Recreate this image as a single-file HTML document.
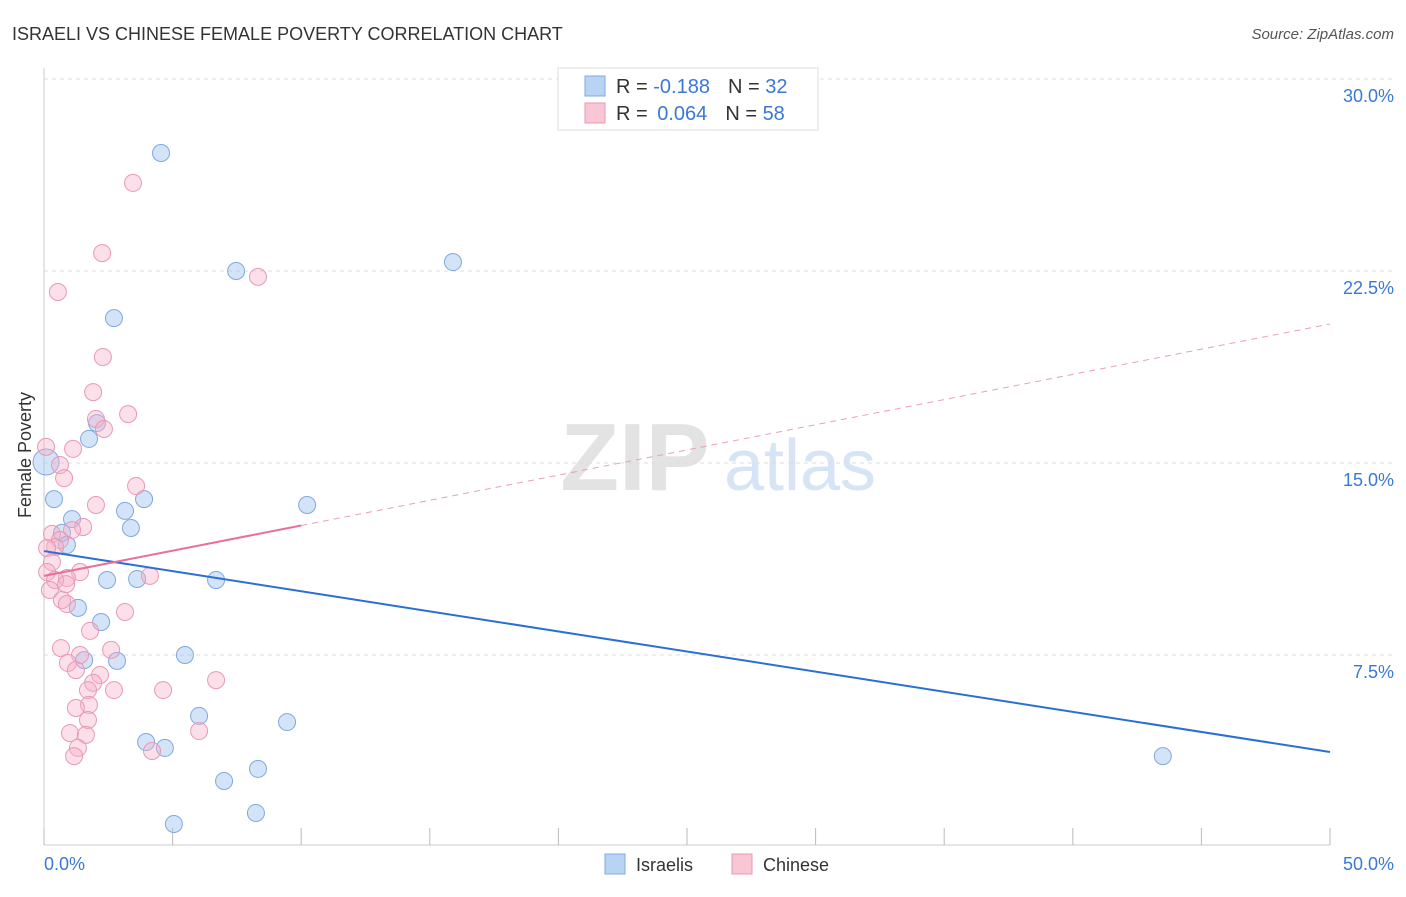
<!DOCTYPE html>
<html><head><meta charset="utf-8">
<style>
body{margin:0;background:#fff;font-family:"Liberation Sans",sans-serif;}
svg text{font-family:"Liberation Sans",sans-serif;}
</style></head>
<body>
<svg width="1406" height="892" viewBox="0 0 1406 892">
<text x="12" y="40" font-size="18" fill="#333">ISRAELI VS CHINESE FEMALE POVERTY CORRELATION CHART</text>
<text x="1394" y="39" font-size="15" fill="#555" font-style="italic" text-anchor="end">Source: ZipAtlas.com</text>
<g>
<text x="635" y="490" font-size="96" fill="#e3e3e3" font-family="Liberation Serif" text-anchor="middle" font-weight="bold">ZIP</text>
<text x="800" y="490" font-size="72" fill="#d6e4f6" text-anchor="middle">atlas</text>
</g>
<g id="grid"></g>
<line x1="44" y1="68" x2="44" y2="845" stroke="#ccc"/>
<line x1="44" y1="845" x2="1330" y2="845" stroke="#ccc"/>
<g id="xticks"></g>
<text x="31" y="455" font-size="18" fill="#333" text-anchor="middle" transform="rotate(-90 31 455)">Female Poverty</text>
<text x="44" y="870" font-size="18" fill="#3a78d8">0.0%</text>
<text x="1394" y="870" font-size="18" fill="#3a78d8" text-anchor="end">50.0%</text>
<g id="points"></g>
<g id="trends"></g>
<g>
<rect x="558" y="68" width="260" height="62" fill="#fff" stroke="#ddd"/>
<rect x="585" y="76" width="20" height="20" fill="#b9d3f5" stroke="#7fa8e0"/>
<text x="616" y="93" font-size="20" fill="#333">R = <tspan fill="#3a78d8">-0.188</tspan><tspan dx="18">N = </tspan><tspan fill="#3a78d8">32</tspan></text>
<rect x="585" y="103" width="20" height="20" fill="#f8c6d5" stroke="#e89ab3"/>
<text x="616" y="120" font-size="20" fill="#333">R = <tspan dx="4" fill="#3a78d8">0.064</tspan><tspan dx="18">N = </tspan><tspan fill="#3a78d8">58</tspan></text>
</g>
<g>
<rect x="605" y="854" width="20" height="20" fill="#b9d3f5" stroke="#7fa8e0"/>
<text x="636" y="871" font-size="18" fill="#333">Israelis</text>
<rect x="732" y="854" width="20" height="20" fill="#f8c6d5" stroke="#e89ab3"/>
<text x="763" y="871" font-size="18" fill="#333">Chinese</text>
</g>
</svg>
<script>
const yTicks=[7.5,15,22.5,30];
const yTickLabels=["7.5%","15.0%","22.5%","30.0%"];
const xTicks=[0,5,10,15,20,25,30,35,40,45,50];
const blueX=[4.55,7.47,15.9,2.72,2.06,1.75,0.39,3.89,3.15,10.23,1.09,3.38,0.70,0.89,2.45,3.62,6.69,1.32,2.22,1.56,2.84,5.48,6.03,9.45,3.97,4.70,7.0,8.32,8.24,5.05,43.5,0.08];
const blueY=[27.11,22.5,22.85,20.66,16.56,15.94,13.59,13.59,13.13,13.36,12.81,12.46,12.27,11.8,10.43,10.47,10.43,9.34,8.79,7.30,7.27,7.5,5.12,4.88,4.10,3.87,2.58,3.05,1.33,0.9,3.55,15.04];
const pinkX=[3.46,2.26,8.32,0.54,2.29,1.91,3.27,2.02,2.33,0.08,1.13,0.62,0.78,3.58,2.02,1.52,1.09,0.31,0.62,0.43,0.12,0.31,1.40,4.12,0.12,0.89,0.43,0.23,0.70,0.89,3.15,1.79,0.66,1.40,2.61,0.93,1.24,2.18,1.91,4.63,1.71,2.72,6.69,1.75,1.24,1.71,1.01,1.63,6.03,1.32,4.2,1.17,0.86];
const pinkY=[25.94,23.2,22.27,21.68,19.14,17.77,16.91,16.72,16.33,15.63,15.55,14.92,14.41,14.1,13.36,12.5,12.38,12.23,11.99,11.72,11.68,11.13,10.74,10.59,10.74,10.51,10.43,10.04,9.65,9.49,9.18,8.44,7.77,7.5,7.70,7.19,6.91,6.72,6.41,6.13,6.13,6.13,6.52,5.55,5.43,4.96,4.45,4.38,4.53,3.87,3.75,3.55,10.27];
const blueTrend=[11.56,3.71];
const pinkTrend=[10.59,20.43];
const pinkSolidEnd=10;
const NS="http://www.w3.org/2000/svg";
const X=v=>44+v/50*1286, Y=v=>847-v*25.6;
function mk(t,a,p){const e=document.createElementNS(NS,t);for(const k in a)e.setAttribute(k,a[k]);p.appendChild(e);return e;}
const grid=document.getElementById('grid');
yTicks.forEach((t,i)=>{
 const l=mk('line',{x1:44,x2:1394,y1:Y(t),y2:Y(t),stroke:'#ddd','stroke-dasharray':'4,4'},grid);
 
 
 const tx=mk('text',{x:1394,y:Y(t)+23,'font-size':18,fill:'#3a78d8','text-anchor':'end'},grid);
 tx.textContent=yTickLabels[i];
 
 
});
const xt=document.getElementById('xticks');
xTicks.forEach(t=>{
 const l=mk('line',{x1:X(t),x2:X(t),y1:828,y2:845,stroke:'#bbb'},xt);
 
 
});
const pts=document.getElementById('points');
blueX.forEach((v,i)=>{
 const c=mk('circle',{cx:X(v),cy:Y(blueY[i]),r:i==blueX.length-1?13:8.5,fill:'rgba(160,195,240,0.45)',stroke:'#7fa8e0','stroke-width':1},pts);
 
 
});
pinkX.forEach((v,i)=>{
 const c=mk('circle',{cx:X(v),cy:Y(pinkY[i]),r:8.5,fill:'rgba(244,175,200,0.4)',stroke:'#e89ab3','stroke-width':1},pts);
 
 
});
const tr=document.getElementById('trends');
const b=mk('line',{x1:X(0),y1:Y(blueTrend[0]),x2:X(50),y2:Y(blueTrend[1]),stroke:'#2a6fd6','stroke-width':2},tr);


const pm=pinkTrend[0]+(pinkTrend[1]-pinkTrend[0])*pinkSolidEnd/50;
const p1=mk('line',{x1:X(0),y1:Y(pinkTrend[0]),x2:X(pinkSolidEnd),y2:Y(pm),stroke:'#e8709a','stroke-width':2},tr);


const p2=mk('line',{x1:X(pinkSolidEnd),y1:Y(pm),x2:X(50),y2:Y(pinkTrend[1]),stroke:'#e8a0b8','stroke-width':1,'stroke-dasharray':'6,5'},tr);


</script>
</body></html>
